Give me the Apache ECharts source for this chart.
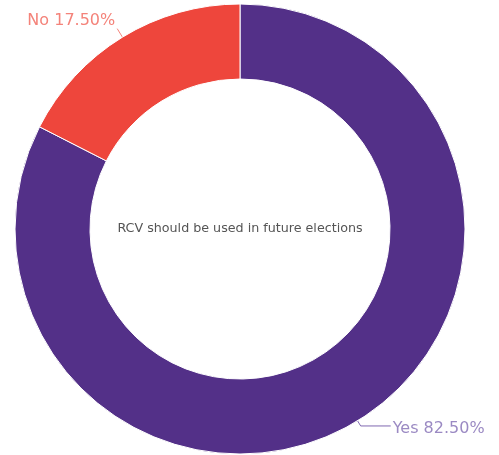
<!DOCTYPE html>
<html><head><meta charset="utf-8">
<script src="https://cdn.jsdelivr.net/npm/echarts@6/dist/echarts.min.js"></script>
<style>html,body{margin:0;padding:0;background:#fff}#c{width:499px;height:455px}</style>
</head><body><div id="c"></div>
<script>
const categories = ['Yes', 'No'];
const values = [82.5, 17.5];
const sliceColors = ['#533088', '#EE463C'];
const labelColors = ['#9B8AC3', '#F4837A'];
const centerTitle = 'RCV should be used in future elections';

const chart = echarts.init(document.getElementById('c'), null, {renderer: 'canvas'});
const data = categories.map((name, i) => ({
  name: name,
  value: values[i],
  itemStyle: {color: sliceColors[i]},
  label: {color: labelColors[i]},
  labelLine: {
    length: i === 1 ? 10 : 6,
    length2: i === 1 ? 0 : 30,
    lineStyle: {color: i === 1 ? labelColors[i] : '#7F68B0', width: 1}
  }
}));
chart.setOption({
  animation: false,
  graphic: [{
    type: 'text',
    x: 240, y: 229,
    style: {
      text: centerTitle,
      align: 'center', verticalAlign: 'middle',
      fontFamily: 'DejaVu Sans', fontSize: 12.7, fill: '#555555'
    }
  }],
  series: [{
    type: 'pie',
    center: [240, 229],
    radius: [150, 225],
    startAngle: 90,
    clockwise: true,
    avoidLabelOverlap: false,
    itemStyle: {borderColor: '#ffffff', borderWidth: 1},
    label: {
      show: true,
      formatter: p => p.name + ' ' + p.value.toFixed(2) + '%',
      fontFamily: 'DejaVu Sans',
      fontSize: 16,
      distanceToLabelLine: 2
    },
    labelLayout: p => (p.dataIndex === 1 ? {dy: -8} : {dy: 3}),
    emphasis: {disabled: true},
    data: data
  }]
});
</script></body></html>
